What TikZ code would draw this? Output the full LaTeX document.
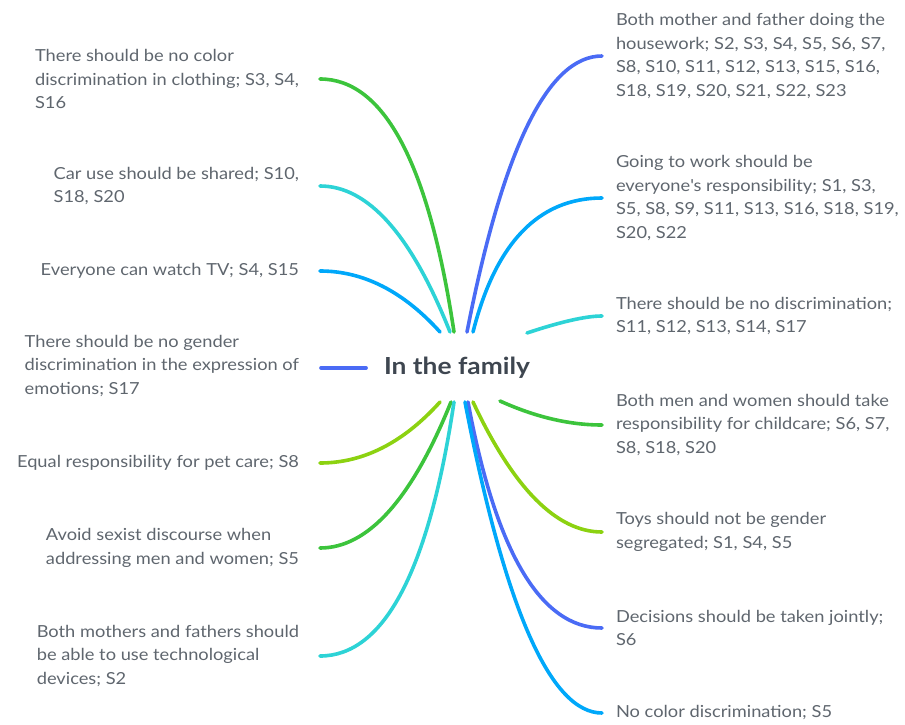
\documentclass[tikz,border=0pt]{standalone}
\usepackage{fontspec}
\setmainfont{Lato}[FakeStretch=1.1]
\newfontfamily\rootfont{Lato}[FakeStretch=1.12]
\usetikzlibrary{calc}
\definecolor{cgreen}{HTML}{3CC43C}
\definecolor{ccyan}{HTML}{2DD3D6}
\definecolor{csky}{HTML}{00A8FA}
\definecolor{cblue}{HTML}{4A6BF5}
\definecolor{clime}{HTML}{8CD211}
\definecolor{ctext}{HTML}{5F666E}
\definecolor{croot}{HTML}{3E4650}
\begin{document}
\begin{tikzpicture}[x=1pt,y=-1pt,
  leaf/.style={inner sep=0pt,outer sep=0pt,align=left,text=ctext,
    font=\fontsize{16.6}{23.5}\selectfont},
  lleaf/.style={leaf,anchor=east},
  rleaf/.style={leaf,anchor=west},
  conn/.style={line width=3.6pt,line cap=round}]
\useasboundingbox (0,0) rectangle (905,725);
\node[inner sep=0pt,outer sep=0pt,text=croot,font=\rootfont\fontsize{23.5}{26}\selectfont\bfseries] (root) at (457,368) {In the family};

% left leaves
\node[lleaf] (L1) at (299,79) {There should be no color\\discrimination in clothing; S3, S4,\\S16};
\node[lleaf] (L2) at (299,186) {Car use should be shared; S10,\\S18, S20};
\node[lleaf] (L3) at (299,271) {Everyone can watch TV; S4, S15};
\node[lleaf] (L4) at (299,366) {There should be no gender\\discrimination in the expression of\\emotions; S17};
\node[lleaf] (L5) at (299,463) {Equal responsibility for pet care; S8};
\node[lleaf] (L6) at (299,548) {Avoid sexist discourse when\\addressing men and women; S5};
\node[lleaf] (L7) at (299,656) {Both mothers and fathers should\\be able to use technological\\devices; S2};

% right leaves
\node[rleaf] (R1) at (616,56) {Both mother and father doing the\\housework; S2, S3, S4, S5, S6, S7,\\S8, S10, S11, S12, S13, S15, S16,\\S18, S19, S20, S21, S22, S23};
\node[rleaf] (R2) at (616,198) {Going to work should be\\everyone\textquotesingle s responsibility; S1, S3,\\S5, S8, S9, S11, S13, S16, S18, S19,\\S20, S22};
\node[rleaf] (R3) at (616,316) {There should be no discrimination;\\S11, S12, S13, S14, S17};
\node[rleaf] (R4) at (616,425) {Both men and women should take\\responsibility for childcare; S6, S7,\\S8, S18, S20};
\node[rleaf] (R5) at (616,532) {Toys should not be gender\\segregated; S1, S4, S5};
\node[rleaf] (R6) at (616,628) {Decisions should be taken jointly;\\S6};
\node[rleaf] (R7) at (616,713) {No color discrimination; S5};

% left connectors
\draw[conn,cgreen] ([shift={(-3,-36)}]root.center) .. controls +(-25.3,-168.7) and +(64,0) .. ([xshift=21pt]L1.east);
\draw[conn,ccyan] ([shift={(-7,-36)}]root.center) .. controls +(-38.7,-97.3) and +(48,0) .. ([xshift=21pt]L2.east);
\draw[conn,csky] ([shift={(-17,-36)}]root.center) .. controls +(-36.7,-40.7) and +(43.3,0) .. ([xshift=21pt]L3.east);
\draw[conn,cblue] ([xshift=-18pt]root.west) -- ([xshift=22pt]L4.east |- root.west);
\draw[conn,clime] ([shift={(-17,34)}]root.center) .. controls +(-36.7,40.7) and +(43.3,0) .. ([xshift=21pt]L5.east);
\draw[conn,cgreen] ([shift={(-6,34)}]root.center) .. controls +(-39.3,97.3) and +(48,0) .. ([xshift=21pt]L6.east);
\draw[conn,ccyan] ([shift={(-3,34)}]root.center) .. controls +(-25.3,169.3) and +(64,0) .. ([xshift=21pt]L7.east);

% right connectors
\draw[conn,cblue] ([shift={(10,-36)}]root.center) .. controls +(36,-184) and +(-54,0) .. ([xshift=-14pt]R1.west);
\draw[conn,csky] ([shift={(16,-36)}]root.center) .. controls +(22.7,-89.3) and +(-63.3,0) .. ([xshift=-14pt]R2.west);
\draw[conn,ccyan] ([shift={(70,-35)}]root.center) .. controls +(34,-11.3) and +(-16,0) .. ([xshift=-14pt]R3.west);
\draw[conn,cgreen] ([shift={(43,33)}]root.center) .. controls +(35.3,16) and +(-32.7,0) .. ([xshift=-14pt]R4.west);
\draw[conn,clime] ([shift={(16,34)}]root.center) .. controls +(40.7,86.7) and +(-45.3,0) .. ([xshift=-14pt]R5.west);
\draw[conn,cblue] ([shift={(11,34)}]root.center) .. controls +(28,150.7) and +(-61.3,0) .. ([xshift=-14pt]R6.west);
\draw[conn,csky] ([shift={(8,34)}]root.center) .. controls +(40,207.3) and +(-51.3,0) .. ([xshift=-14pt]R7.west);
\end{tikzpicture}
\end{document}
